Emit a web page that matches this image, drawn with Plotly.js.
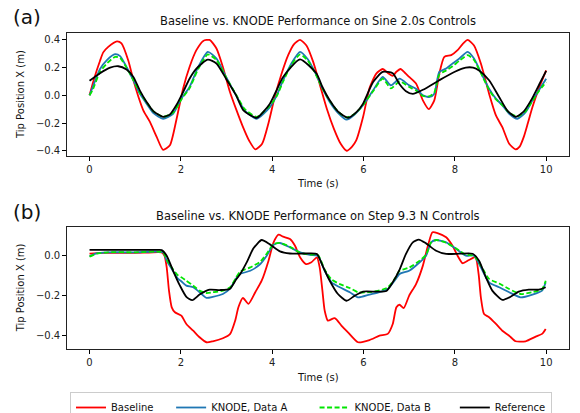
<!DOCTYPE html>
<html>
<head>
<meta charset="utf-8">
<script src="https://cdn.plot.ly/plotly-3.0.1.min.js"></script>
<style>html,body{margin:0;padding:0;background:#fff;}#chart{width:580px;height:413px;}</style>
</head>
<body>
<div id="chart"></div>
<script>
// ---------- Panel (a): Sine 2.0s controls ----------
const sineBaseT = [0,0.1,0.23,0.3,0.41,0.6,0.7,0.85,0.96,1.07,1.18,1.32,1.47,1.61,1.76,1.9,2.05,2.19,2.34,2.49,2.63,2.78,2.92,3.07,3.21,3.35,3.5,3.63,3.78,3.92,4.05,4.2,4.35,4.48,4.61,4.75,4.9,5.05,5.2,5.35,5.5,5.63,5.75,5.84,5.99,6.13,6.28,6.42,6.54,6.64,6.72,6.81,6.9,7.0,7.15,7.3,7.43,7.55,7.66,7.77,7.92,8.06,8.17,8.28,8.42,8.57,8.75,8.9,9.04,9.19,9.33,9.42,9.51,9.6,9.7,9.84,10.0];
const sineBase = [0.0,0.12,0.25,0.31,0.35,0.39,0.375,0.25,0.11,-0.01,-0.11,-0.19,-0.3,-0.393,-0.36,-0.18,0.05,0.205,0.326,0.393,0.4,0.338,0.205,0.03,-0.1,-0.22,-0.33,-0.39,-0.35,-0.2,-0.02,0.15,0.29,0.37,0.4,0.36,0.24,0.07,-0.1,-0.24,-0.35,-0.4,-0.37,-0.326,-0.157,0.05,0.157,0.19,0.16,0.14,0.17,0.19,0.165,0.133,0.085,-0.036,-0.1,-0.036,0.157,0.278,0.29,0.326,0.37,0.4,0.36,0.23,0.012,-0.145,-0.23,-0.35,-0.39,-0.37,-0.3,-0.2,-0.085,0.05,0.18];

const sineAT = [0,0.07,0.23,0.38,0.56,0.67,0.81,0.96,1.1,1.25,1.4,1.61,1.83,2.01,2.19,2.38,2.59,2.78,2.99,3.21,3.4,3.66,3.95,4.1,4.24,4.42,4.61,4.78,4.97,5.1,5.26,5.45,5.63,5.8,5.99,6.21,6.42,6.6,6.79,7.0,7.15,7.3,7.45,7.55,7.66,7.81,7.95,8.1,8.28,8.42,8.6,8.75,8.9,9.04,9.19,9.37,9.55,9.7,9.84,10.0];
const sineA = [0.0,0.06,0.19,0.254,0.297,0.283,0.205,0.109,0.012,-0.06,-0.128,-0.169,-0.133,-0.024,0.06,0.205,0.314,0.266,0.133,0.0,-0.11,-0.169,-0.085,0.0,0.109,0.23,0.314,0.26,0.145,0.05,-0.048,-0.13,-0.176,-0.14,-0.072,0.036,0.133,0.072,0.12,0.072,0.048,0.0,-0.012,0.012,0.169,0.193,0.23,0.266,0.314,0.266,0.145,0.048,-0.024,-0.072,-0.133,-0.169,-0.121,-0.036,0.036,0.12];
const sineB = [0.0,0.04,0.17,0.23,0.278,0.27,0.2,0.11,0.02,-0.05,-0.115,-0.155,-0.125,-0.03,0.05,0.19,0.295,0.255,0.13,0.005,-0.1,-0.155,-0.075,-0.005,0.1,0.22,0.295,0.25,0.14,0.05,-0.04,-0.12,-0.16,-0.135,-0.07,0.03,0.12,0.05,0.1,0.06,0.035,-0.005,-0.005,0.02,0.15,0.18,0.21,0.25,0.29,0.255,0.14,0.04,-0.03,-0.07,-0.125,-0.152,-0.115,-0.04,0.03,0.096];

const sineRefT = [0,0.23,0.45,0.63,0.81,0.96,1.1,1.25,1.4,1.61,1.76,1.9,2.05,2.19,2.34,2.59,2.78,2.99,3.08,3.21,3.37,3.66,3.95,4.1,4.24,4.61,4.97,5.1,5.26,5.45,5.66,5.85,5.99,6.21,6.42,6.64,6.79,6.93,7.08,7.3,7.66,8.0,8.24,8.4,8.53,8.75,8.97,9.15,9.33,9.5,9.69,9.85,10.0];
const sineRef = [0.105,0.16,0.2,0.21,0.186,0.133,0.036,-0.048,-0.116,-0.155,-0.138,-0.072,0.024,0.12,0.193,0.258,0.23,0.12,0.072,0.0,-0.109,-0.162,-0.06,0.04,0.133,0.26,0.157,0.06,-0.036,-0.12,-0.162,-0.12,-0.06,0.096,0.169,0.16,0.08,0.03,0.01,0.04,0.109,0.17,0.2,0.2,0.18,0.109,-0.012,-0.11,-0.155,-0.12,-0.024,0.08,0.176];

// ---------- Panel (b): Step 9.3 N controls ----------
const stepBaseT = [0,0.3,0.8,1.2,1.58,1.64,1.69,1.74,1.8,1.87,2.01,2.12,2.27,2.41,2.56,2.7,2.92,3.08,3.19,3.26,3.36,3.48,3.63,3.77,3.92,4.03,4.14,4.24,4.39,4.5,4.61,4.74,4.86,4.98,5.04,5.1,5.15,5.22,5.37,5.52,5.66,5.88,6.13,6.35,6.53,6.64,6.72,6.79,6.88,7.0,7.15,7.3,7.41,7.51,7.62,7.81,7.95,8.06,8.17,8.31,8.45,8.52,8.57,8.64,8.75,8.9,9.04,9.19,9.33,9.55,9.77,9.91,9.99];
const stepBase = [0.01,0.014,0.014,0.015,0.016,0.0,-0.059,-0.176,-0.26,-0.285,-0.302,-0.344,-0.378,-0.411,-0.436,-0.431,-0.416,-0.394,-0.327,-0.26,-0.213,-0.243,-0.184,-0.126,-0.025,0.067,0.106,0.096,0.084,0.05,-0.008,-0.042,-0.033,-0.008,-0.059,-0.176,-0.277,-0.327,-0.314,-0.353,-0.386,-0.436,-0.425,-0.403,-0.394,-0.344,-0.26,-0.247,-0.264,-0.201,-0.143,-0.05,0.05,0.118,0.114,0.093,0.05,0.0,-0.038,-0.022,-0.008,-0.092,-0.21,-0.294,-0.31,-0.344,-0.378,-0.403,-0.431,-0.431,-0.408,-0.394,-0.369];

const stepAT = [0,0.15,0.4,1.0,1.61,1.69,1.8,1.94,2.01,2.12,2.27,2.41,2.56,2.7,2.92,3.08,3.21,3.3,3.52,3.74,3.88,4.03,4.17,4.39,4.61,4.83,5.0,5.15,5.3,5.48,5.7,5.88,6.13,6.35,6.53,6.68,6.79,7.0,7.23,7.37,7.48,7.59,7.81,8.03,8.24,8.42,8.57,8.75,8.97,9.19,9.44,9.7,9.91,9.99];
const stepA = [-0.003,0.012,0.017,0.017,0.017,-0.025,-0.067,-0.117,-0.129,-0.151,-0.159,-0.184,-0.212,-0.207,-0.193,-0.165,-0.115,-0.092,-0.076,-0.042,0.0,0.055,0.064,0.042,0.017,0.004,0.0,-0.076,-0.134,-0.159,-0.184,-0.21,-0.196,-0.184,-0.168,-0.126,-0.092,-0.076,-0.033,0.0,0.067,0.079,0.067,0.034,0.0,0.0,-0.059,-0.134,-0.159,-0.184,-0.21,-0.196,-0.176,-0.134];
const stepB = [-0.005,0.01,0.017,0.017,0.017,-0.02,-0.06,-0.1,-0.109,-0.126,-0.151,-0.176,-0.188,-0.184,-0.176,-0.159,-0.11,-0.08,-0.059,-0.03,0.01,0.058,0.064,0.045,0.015,0.006,0.004,-0.07,-0.12,-0.143,-0.163,-0.184,-0.184,-0.175,-0.16,-0.118,-0.076,-0.06,-0.025,0.005,0.067,0.079,0.065,0.036,0.005,0.0,-0.05,-0.117,-0.14,-0.168,-0.193,-0.184,-0.168,-0.126];

const stepRefT = [0,0.8,1.5,1.58,1.69,1.83,1.98,2.12,2.25,2.41,2.63,2.85,3.07,3.21,3.3,3.45,3.59,3.77,3.95,4.17,4.39,4.61,4.83,4.98,5.12,5.26,5.44,5.63,5.81,5.99,6.28,6.5,6.64,6.79,6.93,7.08,7.21,7.37,7.59,7.81,8.1,8.39,8.53,8.68,8.82,9.04,9.22,9.4,9.62,9.84,9.99];
const stepRef = [0.029,0.029,0.029,0.028,0.0,-0.076,-0.151,-0.207,-0.224,-0.196,-0.171,-0.173,-0.168,-0.12,-0.092,-0.03,0.037,0.079,0.057,0.022,0.011,0.01,0.012,0.008,-0.059,-0.126,-0.193,-0.227,-0.201,-0.181,-0.181,-0.178,-0.134,-0.07,0.009,0.067,0.081,0.062,0.025,0.009,0.01,0.01,-0.025,-0.109,-0.176,-0.223,-0.207,-0.181,-0.171,-0.171,-0.159];

// ---------- labels ----------
const seriesNames = ["Baseline", "KNODE, Data A", "KNODE, Data B", "Reference"];
const panelTitles = ["Baseline vs. KNODE Performance on Sine 2.0s Controls", "Baseline vs. KNODE Performance on Step 9.3 N Controls"];
const panelLabels = ["(a)", "(b)"];
const xTickVals = [0, 2, 4, 6, 8, 10];
const yTicksTop = [-0.4, -0.2, 0.0, 0.2, 0.4];
const yTicksBottom = [-0.4, -0.2, 0.0];

const colors = ["#ff0000", "#1f77b4", "#00e600", "#000000"];
const legendPad = [4, 7, 6, 0]; // non-breaking spaces to mimic matplotlib column spacing
const FONT = "DejaVu Sans, sans-serif";
const LW = 1.8;

function mk(x, y, i, xa, ya, show) {
  return {
    x: x, y: y, type: "scatter", mode: "lines",
    name: seriesNames[i] + "\u00A0".repeat(legendPad[i]),
    xaxis: xa, yaxis: ya, showlegend: show,
    line: {color: colors[i], width: LW, shape: "spline", smoothing: 0.6, dash: i === 2 ? "5px,2.5px" : "solid"}
  };
}

const traces = [
  mk(sineBaseT, sineBase, 0, "x", "y", true),
  mk(sineAT, sineA, 1, "x", "y", true),
  mk(sineAT, sineB, 2, "x", "y", true),
  mk(sineRefT, sineRef, 3, "x", "y", true),
  mk(stepBaseT, stepBase, 0, "x2", "y2", false),
  mk(stepAT, stepA, 1, "x2", "y2", false),
  mk(stepAT, stepB, 2, "x2", "y2", false),
  mk(stepRefT, stepRef, 3, "x2", "y2", false)
];

const W = 580, H = 413;
const xDom = [66.7 / W, 569 / W];
const yDomTop = [1 - 156 / H, 1 - 33 / H];
const yDomBot = [1 - 349 / H, 1 - 226.7 / H];

function xAxis(anchor) {
  return {
    domain: xDom, anchor: anchor, range: [-0.5, 10.5], tickvals: xTickVals,
    ticks: "outside", ticklen: 3.5, tickwidth: 1, tickcolor: "#000",
    showline: true, linecolor: "#222", linewidth: 1, mirror: true,
    showgrid: false, zeroline: false,
    tickfont: {family: FONT, size: 10, color: "#222"}
  };
}
function yAxis(anchor, dom, range, tv) {
  return {
    domain: dom, anchor: anchor, range: range, tickvals: tv, tickformat: ".1f",
    ticks: "outside", ticklen: 3.5, tickwidth: 1, tickcolor: "#000",
    showline: true, linecolor: "#222", linewidth: 1, mirror: true,
    showgrid: false, zeroline: false,
    tickfont: {family: FONT, size: 10, color: "#222"}
  };
}

const xc = (xDom[0] + xDom[1]) / 2;
const base = {xref: "paper", yref: "paper", showarrow: false};
const titleFont = {family: FONT, size: 11.5, color: "#111"};
const labelFont = {family: FONT, size: 20, color: "#111"};
const axTitleFont = {family: FONT, size: 10, color: "#111"};
const ann = [
  Object.assign({text: panelTitles[0], x: xc, y: 1 - 21 / H, xanchor: "center", yanchor: "middle", font: titleFont}, base),
  Object.assign({text: panelTitles[1], x: xc, y: 1 - 215.5 / H, xanchor: "center", yanchor: "middle", font: titleFont}, base),
  Object.assign({text: panelLabels[0], x: 11 / W, y: 1 - 17 / H, xanchor: "left", yanchor: "middle", font: labelFont}, base),
  Object.assign({text: panelLabels[1], x: 11 / W, y: 1 - 212 / H, xanchor: "left", yanchor: "middle", font: labelFont}, base),
  Object.assign({text: "Time (s)", x: 318 / W, y: 1 - 183.5 / H, xanchor: "center", yanchor: "middle", font: axTitleFont}, base),
  Object.assign({text: "Time (s)", x: 318 / W, y: 1 - 377.5 / H, xanchor: "center", yanchor: "middle", font: axTitleFont}, base),
  Object.assign({text: "Tip Position X (m)", x: 20.5 / W, y: 1 - 94.5 / H, textangle: -90, xanchor: "center", yanchor: "middle", font: axTitleFont}, base),
  Object.assign({text: "Tip Position X (m)", x: 20.5 / W, y: 1 - 287.8 / H, textangle: -90, xanchor: "center", yanchor: "middle", font: axTitleFont}, base)
];

const layout = {
  width: W, height: H,
  margin: {l: 0, r: 0, t: 0, b: 0, autoexpand: false},
  paper_bgcolor: "#fff", plot_bgcolor: "#fff",
  font: {family: FONT, size: 10, color: "#111"},
  xaxis: xAxis("y"),
  yaxis: yAxis("x", yDomTop, [-0.438, 0.45], yTicksTop),
  xaxis2: xAxis("y2"),
  yaxis2: yAxis("x2", yDomBot, [-0.47, 0.146], yTicksBottom),
  annotations: ann,
  showlegend: true,
  legend: {
    orientation: "h", xref: "container", yref: "container",
    x: 70 / W, y: 1 - 392 / H, xanchor: "left", yanchor: "top",
    bordercolor: "#cccccc", borderwidth: 1, bgcolor: "#fff",
    font: {family: FONT, size: 10, color: "#111"},
    itemwidth: 30, tracegroupgap: 0
  }
};

Plotly.newPlot("chart", traces, layout, {staticPlot: true, displayModeBar: false});
</script>
</body>
</html>
